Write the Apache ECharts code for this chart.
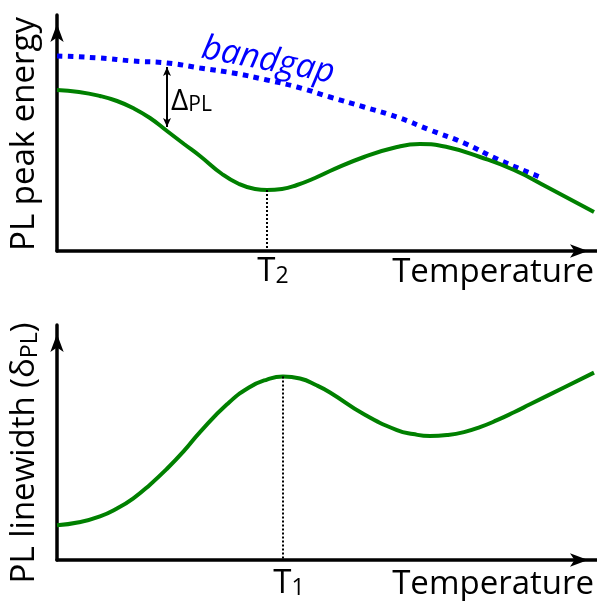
<!DOCTYPE html>
<html>
<head>
<meta charset="utf-8">
<script src="https://cdn.jsdelivr.net/npm/echarts@6/dist/echarts.min.js"></script>
<style>
  html, body { margin: 0; padding: 0; background: #fff; }
  #chart { width: 597px; height: 601px; }
</style>
</head>
<body>
<div id="chart"></div>
<script>
// schematic data (arbitrary units)
var peakT  = [0, 22, 43, 60, 76, 93, 110, 127, 143, 165, 182, 198, 210, 225, 240, 258, 273, 307, 340, 363, 390, 423, 457, 490, 537];
var peakE  = [161, 159, 155, 150, 143, 133, 120, 107, 95, 77, 67, 62, 61, 62, 66, 73, 80, 94, 104, 107, 104, 94, 81, 64, 39];
var bandT  = [0, 43, 76, 110, 143, 176, 210, 240, 273, 307, 340, 373, 407, 440, 483];
var bandE  = [195, 193, 190, 188, 183, 178, 171, 164, 154, 144, 134, 121, 108, 92, 74];
var widthT = [0, 22, 43, 60, 76, 93, 110, 127, 143, 170, 192, 210, 226, 243, 260, 273, 307, 340, 356, 373, 390, 407, 423, 440, 457, 473, 507, 537];
var widthV = [35, 38, 44, 52, 62, 76, 92, 110, 129, 157, 174, 182, 185, 183, 176, 169, 147, 131, 127, 125, 126, 129, 134, 141, 149, 157, 174, 189];
var deltaT = 110;

function pairs(xs, ys) {
    var out = [];
    for (var i = 0; i < xs.length; i++) out.push([xs[i], ys[i]]);
    return out;
}

// first interior extremum (sign = -1 for a minimum, +1 for a maximum)
function extremum(ys, sign) {
    for (var i = 1; i < ys.length - 1; i++) {
        if (sign * (ys[i] - ys[i - 1]) > 0 && sign * (ys[i] - ys[i + 1]) > 0) return i;
    }
    return 0;
}

var i2 = extremum(peakE, -1);
var i1 = extremum(widthV, 1);
var dTop = bandE[bandT.indexOf(deltaT)];
var dBot = peakE[peakT.indexOf(deltaT)];

var FONT = 'Open Sans';
var GREEN = '#008000';

function axisLine() {
    return {
        show: true,
        symbol: ['none', 'arrow'],
        symbolSize: [10, 18],
        symbolOffset: [0, -9],
        lineStyle: { color: '#000', width: 3.5 }
    };
}

function xAx(grid, pad) {
    return {
        type: 'value', gridIndex: grid, min: 0, max: 540,
        name: 'Temperature', nameLocation: 'end', nameGap: 0,
        nameTextStyle: {
            fontFamily: FONT, fontSize: 33, color: '#000',
            align: 'right', verticalAlign: 'top', padding: [pad, 3, 0, 0]
        },
        axisLine: axisLine(),
        axisTick: { show: false }, axisLabel: { show: false }, splitLine: { show: false }
    };
}

function yAx(grid, max) {
    return {
        type: 'value', gridIndex: grid, min: 0, max: max,
        axisLine: axisLine(),
        axisTick: { show: false }, axisLabel: { show: false }, splitLine: { show: false }
    };
}

function tLabel(sub, dist) {
    return {
        show: true, position: 'end', distance: dist,
        formatter: '{t|T}{s|' + sub + '}',
        padding: [0, 0, 0, 12],
        rich: {
            t: { fontFamily: FONT, fontSize: 33, color: '#000' },
            s: { fontFamily: FONT, fontSize: 23, color: '#000', verticalAlign: 'bottom', lineHeight: 10 }
        }
    };
}

function tLine(t, v, sub, dist) {
    return {
        silent: true, symbol: 'none',
        lineStyle: { color: '#000', width: 2, type: [2, 2] },
        label: tLabel(sub, dist),
        data: [[{ coord: [t, v] }, { coord: [t, 0] }]]
    };
}

var chart = echarts.init(document.getElementById('chart'));
var option = {
    animation: false,
    backgroundColor: '#fff',
    grid: [
        { left: 57, right: 0, top: 15, height: 236 },
        { left: 57, right: 0, top: 325, height: 237 }
    ],
    xAxis: [xAx(0, 5), xAx(1, 8)],
    yAxis: [yAx(0, 236), yAx(1, 237)],
    series: [{
        name: 'bandgap',
        type: 'line', xAxisIndex: 0, yAxisIndex: 0,
        data: pairs(bandT, bandE),
        smooth: 0.5, symbol: 'none', z: 2,
        lineStyle: { color: '#0000ff', width: 5, type: [5.5, 5.5] },
        markLine: {
            silent: true,
            symbol: ['arrow', 'arrow'],
            symbolSize: [6, 9],
            lineStyle: { color: '#000', width: 2, type: 'solid' },
            label: { show: false },
            data: [[{ coord: [deltaT, dTop - 4] }, { coord: [deltaT, dBot + 4] }]]
        }
    }, {
        name: 'PL peak energy',
        type: 'line', xAxisIndex: 0, yAxisIndex: 0,
        data: pairs(peakT, peakE),
        smooth: 0.5, symbol: 'none', z: 3,
        lineStyle: { color: GREEN, width: 4 },
        markLine: tLine(peakT[i2], peakE[i2], '2', 4)
    }, {
        name: 'PL linewidth',
        type: 'line', xAxisIndex: 1, yAxisIndex: 1,
        data: pairs(widthT, widthV),
        smooth: 0.5, symbol: 'none', z: 3,
        lineStyle: { color: GREEN, width: 4 },
        markLine: tLine(widthT[i1], widthV[i1], '1', 7)
    }],
    graphic: [{
        type: 'text', x: 25, y: 134, rotation: Math.PI / 2,
        style: {
            text: 'PL peak energy', fill: '#000',
            fontFamily: FONT, fontSize: 33,
            align: 'center', verticalAlign: 'middle', textAlign: 'center', textVerticalAlign: 'middle'
        }
    }, {
        type: 'text', x: 25, y: 453, rotation: Math.PI / 2,
        style: {
            text: '{a|PL linewidth (δ}{s|PL}{a|)}', fill: '#000',
            align: 'center', verticalAlign: 'middle', textAlign: 'center', textVerticalAlign: 'middle',
            rich: {
                a: { fontFamily: FONT, fontSize: 33, fill: '#000' },
                s: { fontFamily: FONT, fontSize: 23, fill: '#000', verticalAlign: 'bottom', lineHeight: 10 }
            }
        }
    }, {
        type: 'text', x: 202, y: 48, rotation: -0.19,
        style: {
            text: 'bandgap', fill: '#0000ff',
            fontFamily: FONT, fontSize: 34, fontStyle: 'italic',
            align: 'left', verticalAlign: 'middle', textAlign: 'left', textVerticalAlign: 'middle'
        }
    }, {
        type: 'text', x: 171, y: 101,
        style: {
            text: '{d|Δ}{s|PL}', fill: '#000',
            align: 'left', verticalAlign: 'middle', textAlign: 'left', textVerticalAlign: 'middle',
            rich: {
                d: { fontFamily: FONT, fontSize: 30, fill: '#000' },
                s: { fontFamily: FONT, fontSize: 21, fill: '#000', verticalAlign: 'bottom', lineHeight: 8 }
            }
        }
    }]
};
chart.setOption(option);
</script>
</body>
</html>
